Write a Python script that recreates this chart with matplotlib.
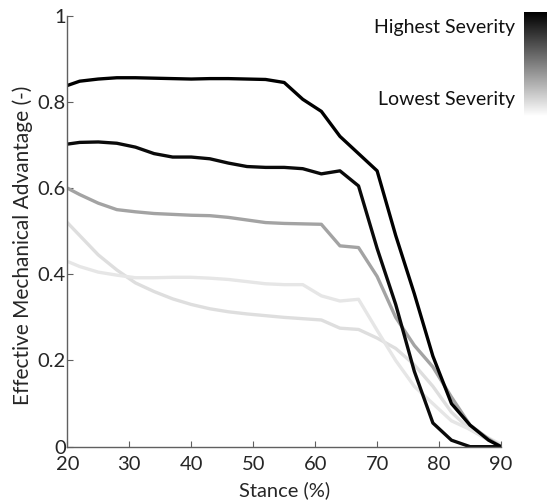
import matplotlib
matplotlib.use('Agg')
import matplotlib.pyplot as plt
import numpy as np

plt.rcParams['font.family'] = ['Lato', 'DejaVu Sans']

stance = [20, 22, 25, 28, 31, 34, 37, 40, 43, 46, 49, 52, 55, 58, 61,
          64, 67, 70, 73, 76, 79, 82, 85, 88, 90]

sev_1 = [0.838, 0.848, 0.853, 0.856, 0.856, 0.855, 0.854, 0.853, 0.854, 0.854,
         0.853, 0.852, 0.845, 0.806, 0.778, 0.72, 0.68, 0.64, 0.49, 0.355,
         0.21, 0.10, 0.05, 0.015, 0.0]
sev_2 = [0.702, 0.706, 0.707, 0.704, 0.695, 0.68, 0.672, 0.672, 0.668, 0.658,
         0.65, 0.648, 0.648, 0.645, 0.633, 0.64, 0.605, 0.46, 0.33, 0.175,
         0.055, 0.015, 0.0, 0.0, 0.0]
sev_3 = [0.60, 0.585, 0.565, 0.55, 0.545, 0.541, 0.539, 0.537, 0.536, 0.532,
         0.526, 0.52, 0.518, 0.517, 0.516, 0.466, 0.462, 0.395, 0.30, 0.235,
         0.185, 0.115, 0.05, 0.018, 0.0]
sev_4 = [0.43, 0.418, 0.405, 0.398, 0.392, 0.392, 0.393, 0.393, 0.391, 0.388,
         0.383, 0.378, 0.376, 0.376, 0.35, 0.338, 0.342, 0.27, 0.20, 0.14,
         0.10, 0.06, 0.04, 0.02, 0.005]
sev_5 = [0.52, 0.49, 0.445, 0.41, 0.38, 0.36, 0.343, 0.33, 0.32, 0.313,
         0.308, 0.304, 0.30, 0.297, 0.294, 0.275, 0.272, 0.252, 0.228, 0.19,
         0.14, 0.08, 0.04, 0.015, 0.0]

series = [sev_5, sev_4, sev_3, sev_2, sev_1]
colors = ['#dedede', '#e6e6e6', '#a3a3a3', '#0a0a0a', '#000000']

fig = plt.figure(figsize=(5.47, 5.01), dpi=100)
ax = fig.add_axes([0.123, 0.1084, 0.793, 0.8603])

for vals, c in zip(series, colors):
    ax.plot(stance, vals, color=c, linewidth=2.4, solid_joinstyle='round')

ax.set_xlim(20, 90)
ax.set_ylim(0, 1)
ax.set_xticks([20, 30, 40, 50, 60, 70, 80, 90])
ax.set_yticks([0, 0.2, 0.4, 0.6, 0.8, 1])
ax.set_yticklabels(['0', '0.2', '0.4', '0.6', '0.8', '1'])
for s in ['top', 'right']:
    ax.spines[s].set_visible(False)
for s in ['left', 'bottom']:
    ax.spines[s].set_color('#606060')
    ax.spines[s].set_linewidth(1.0)
ax.tick_params(direction='in', length=4, color='#606060', labelsize=14.5,
               labelcolor='#262626')
ax.tick_params(axis='y', pad=1)
ax.tick_params(axis='x', pad=7)
ax.set_xlabel('Stance (%)', fontsize=14.5, color='#262626', va='center')
ax.xaxis.set_label_coords(0.5, -0.1)
ax.set_ylabel('Effective Mechanical Advantage (-)', fontsize=15,
              color='#262626', va='center')
ax.yaxis.set_label_coords(-0.102, 0.468)

# severity colour bar
cax = fig.add_axes([524 / 547, 1 - 116 / 501, 0.06, 104 / 501])
grad = np.linspace(0, 1, 256).reshape(-1, 1)
cax.imshow(grad, cmap='gray', aspect='auto')
cax.set_axis_off()
fig.text(515 / 547, 1 - 28 / 501, 'Highest Severity', ha='right', va='center',
         fontsize=14, color='#111111')
fig.text(515 / 547, 1 - 99 / 501, 'Lowest Severity', ha='right', va='center',
         fontsize=14, color='#111111')

fig.savefig('out.png', dpi=100)
